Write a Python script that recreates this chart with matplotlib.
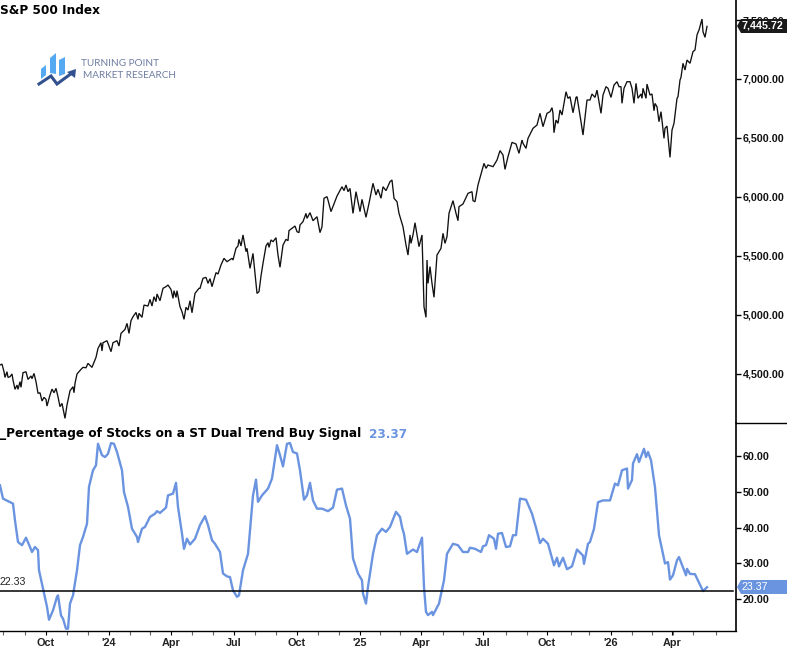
#!/usr/bin/env python3

import matplotlib
matplotlib.use("Agg")
import matplotlib.pyplot as plt
from matplotlib.patches import Polygon

# S&P 500 closes, x is the session count on the shared time axis
spx_sessions = [0, 2, 4, 5, 7, 8, 10, 12, 13, 15, 17, 18, 20, 21, 23, 26, 28, 31, 32, 34, 36, 38, 40, 42, 44, 46,
                47, 50, 52, 54, 56, 58, 60, 62, 65, 67, 70, 73, 74, 75, 77, 81, 83, 86, 88, 92, 96, 98, 101,
                102, 103, 107, 109, 111, 113, 117, 119, 121, 125, 127, 129, 131, 133, 136, 138, 139, 142, 144,
                148, 150, 152, 154, 156, 157, 160, 163, 166, 168, 171, 173, 174, 176, 177, 180, 182, 184, 186,
                188, 190, 192, 195, 199,
                200, 203, 206, 208, 210, 212, 216, 218, 221, 224, 227, 232, 233, 236, 238, 239, 241, 243, 246,
                247, 250, 253, 255, 257, 259, 261, 263, 266, 268, 269, 271, 273, 276, 278, 280, 283, 286, 288,
                289, 295, 297, 299, 300, 303, 306, 307, 310, 313, 317, 320, 322, 324, 327, 328, 331, 337, 342,
                344, 346, 348, 350, 353, 356, 360, 362, 366, 369, 373, 376, 378, 381, 383, 386, 390, 392, 394,
                397, 399,
                403, 406, 408, 410, 411, 413, 415, 419, 422, 424, 426, 427, 428, 430, 432, 434, 437, 441, 443,
                445, 447, 449, 453, 456, 458, 459, 463, 468, 472, 473, 475, 478, 484, 486, 488, 493, 497, 500,
                503, 505, 508, 512, 516, 519, 522, 523, 526, 528, 533, 537,
                540, 543, 547, 550, 552, 553, 554, 556, 558, 560, 562, 566, 568, 570, 573, 576, 577, 580, 581,
                583, 587, 590, 592, 595, 597, 601, 603, 606, 608, 611, 614, 617, 619, 621, 622, 624, 627, 630,
                632, 634, 636, 638, 641, 642, 643, 646, 647, 650, 652, 654, 655, 657, 659, 661, 664, 665, 667,
                670, 672, 674, 677, 678, 680,
                681, 683, 685, 687, 690, 693, 695, 697, 699, 702, 703, 705, 707]
spx_close = [4576, 4584, 4519, 4471, 4519, 4471, 4477, 4500, 4449, 4370, 4406, 4370, 4435, 4387, 4511, 4519, 4454,
             4483, 4460, 4505, 4435, 4336, 4341, 4271, 4302, 4285, 4228, 4322, 4372, 4341, 4378, 4307, 4223, 4251,
             4124, 4237, 4358, 4392, 4341, 4420, 4500, 4539, 4556, 4553, 4590, 4556, 4641, 4717, 4765, 4695, 4765,
             4782, 4737, 4689, 4765, 4782, 4737, 4844, 4878, 4929, 4844, 4952, 4985, 5022, 4963, 5014, 4980, 5084,
             5076, 5132, 5076, 5155, 5113, 5178, 5121, 5226, 5240, 5254, 5217, 5141, 5206, 5149, 5206, 5070, 5028,
             4963, 5065, 5042, 5121, 5019, 5183, 5226,
             5226, 5311, 5319, 5268, 5308, 5240, 5359, 5347, 5424, 5480, 5452, 5480, 5466, 5565, 5585, 5641, 5585,
             5678, 5537, 5565, 5395, 5522, 5353, 5183, 5198, 5330, 5438, 5585, 5613, 5573, 5636, 5621, 5655, 5508,
             5404, 5593, 5641, 5630, 5715, 5754, 5706, 5698, 5763, 5791, 5861, 5819, 5867, 5799, 5833, 5698, 5748,
             5989, 6003, 5974, 5876, 6008, 6087, 6054, 6102, 6045, 6073, 5861, 6045, 5876, 5980, 5828, 5946, 6116,
             6017, 6065, 5989, 6087, 6054, 6130, 6144, 5989, 5960, 5861,
             5748, 5593, 5508, 5678, 5607, 5678, 5782, 5579, 5678, 5070, 4980, 5466, 5268, 5410, 5268, 5150, 5508,
             5565, 5692, 5607, 5664, 5862, 5969, 5862, 5799, 5918, 5941, 6031, 6045, 5969, 5960, 6102, 6285, 6243,
             6271, 6257, 6313, 6393, 6356, 6234, 6342, 6463, 6449, 6370, 6483, 6455, 6412, 6497, 6582, 6610,
             6709, 6596, 6709, 6723, 6757, 6709, 6545, 6652, 6624, 6737, 6695, 6892, 6836, 6850, 6714, 6844, 6850,
             6695, 6638, 6525, 6822, 6822, 6873, 6844, 6906, 6709, 6864, 6935, 6921, 6844, 6949, 6977, 6935, 6935,
             6794, 6921, 6977, 6977, 6921, 6794, 6963, 6836, 6873, 6836, 6921, 6836, 6957, 6864, 6873, 6731, 6793,
             6765, 6638, 6723, 6497, 6582, 6601, 6336, 6567, 6624, 6836, 6850, 6991,
             7014, 7133, 7076, 7161, 7133, 7232, 7246, 7373, 7415, 7508, 7401, 7353, 7445.72]

# breadth line in percent, same session count
pct_sessions = [0, 3, 8, 13, 15, 18, 22, 26, 30, 32, 35, 38, 39, 43, 47, 49, 53, 57, 58, 61, 63, 66, 68, 70,
                73, 77, 80, 83, 87, 89, 93, 96, 98, 102, 105, 108, 111, 114, 117, 122, 124, 128, 132, 137,
                138, 142, 145, 150, 155, 157, 160, 166, 168, 173, 176, 178, 182, 184, 187, 190, 195, 200,
                205, 208, 212, 215, 220, 223, 227, 230, 233, 237, 239, 243, 248, 252, 253, 256, 258, 262,
                268, 272, 277, 280, 283, 287, 290, 293, 297, 300, 304, 307, 310, 313, 317, 322, 328, 333,
                337, 342, 346, 350, 353, 358, 362, 363, 366, 368, 373, 377, 382, 386, 390, 396, 400, 402,
                404, 407, 413, 417, 422, 424, 426, 428, 432, 433, 439, 444, 447, 453, 458, 463, 468, 470,
                475, 481, 483, 486, 489, 494, 496, 498, 502, 506, 510, 513, 516, 520, 526, 532, 536, 540,
                543, 548, 554, 557, 559, 563, 567, 572, 577, 583, 584, 588, 590, 594, 598, 603, 610, 615,
                618, 622, 627, 628, 632, 633, 637, 639, 644, 646, 648, 651, 655, 659, 665, 668, 670, 673,
                677, 679, 686, 687, 690, 695, 703, 707]
pct_values = [51.8, 48.1, 47.4, 46.7, 42.0, 36.0, 35.1, 37.2, 34.6, 33.2, 34.6, 33.7, 28.1, 23.0, 17.9, 14.3,
              16.9, 20.7, 21.1, 15.5, 14.6, 11.8, 11.8, 18.8, 21.1, 28.1, 35.1, 37.4, 41.1, 51.4, 56.0, 57.4,
              63.4, 60.2, 59.7, 60.6, 63.6, 63.4, 61.1, 56.0, 49.9, 45.8, 39.7, 37.4, 36.0, 39.7, 40.2, 43.0,
              43.9, 44.6, 44.1, 45.6, 49.0, 49.5, 52.5, 45.8, 38.3, 34.1, 36.9, 35.3, 36.9, 40.7, 43.2, 40.7,
              36.5, 35.5, 33.2, 27.2, 26.4, 26.2, 22.5, 20.7, 21.1, 28.1, 32.7, 45.8, 49.0, 53.4, 47.2, 49.0,
              50.9, 53.7, 63.0, 60.2, 57.1, 63.4, 63.6, 61.1, 60.7, 56.0, 47.8, 49.0, 52.5, 47.6, 45.3, 45.3,
              44.6, 45.6, 50.6, 50.9, 46.2, 42.5, 31.4, 27.2, 25.3, 21.6, 18.8, 23.5, 32.7, 37.9, 39.7, 38.8,
              40.2, 44.4, 43.0, 40.2, 38.2, 32.7, 33.9, 33.2, 37.2, 23.4, 16.5, 15.6, 16.5, 15.6, 18.8, 25.3,
              32.7, 35.5, 35.1, 33.2, 33.2, 34.4, 34.1, 33.2, 34.8, 35.1, 37.9, 36.9, 34.1, 38.3, 38.5, 34.6,
              34.8, 37.9, 37.9, 48.1, 47.8, 43.9, 40.0, 35.7, 36.9, 35.5, 29.5, 31.6, 29.2, 31.6, 28.4, 29.2,
              33.9, 32.2, 29.9, 35.5, 36.0, 39.7, 47.1, 47.6, 47.6, 52.3, 51.8, 56.0, 56.5, 50.9, 53.3, 57.9,
              60.5, 58.3, 62.0, 59.7, 61.1, 58.8, 51.3, 37.9, 30.0, 30.4, 25.5, 26.7, 30.9, 31.8, 26.7, 28.5,
              27.1, 27.0, 22.3, 23.37]

month_sessions = [3, 25, 46, 67, 88, 109, 130, 150, 171, 192, 213, 234, 255, 276, 297, 318, 339, 360, 380, 400,
                  421, 443, 463, 483, 506, 527, 547, 571, 589, 611, 632, 652, 673, 693, 716]
label_sessions = [46, 109, 171, 234, 297, 360, 421, 483, 547, 611, 672]
label_names = ["Oct", "'24", "Apr", "Jul", "Oct", "'25", "Apr", "Jul", "Oct", "'26", "Apr"]

spx_ticks = [4500, 5000, 5500, 6000, 6500, 7000, 7500]
pct_ticks = [20, 30, 40, 50, 60]
spx_last = 7445.72
pct_last = 23.37
pct_level = 22.33

W, H = 787, 649
BLUE = "#6b94e0"
TICK_FONT = "Liberation Sans"

fig = plt.figure(figsize=(W / 100, H / 100), dpi=100)
ax1 = fig.add_axes([0, (H - 423) / H, 736 / W, 423 / H])
ax2 = fig.add_axes([0, (H - 631) / H, 736 / W, 208 / H], sharex=ax1)

ax1.plot(spx_sessions, spx_close, color="#111111", lw=0.95, solid_joinstyle="miter")
ax2.plot(pct_sessions, pct_values, color=BLUE, lw=1.7, solid_joinstyle="round")
ax2.plot([0, 733], [pct_level, pct_level], color="black", lw=1.1)

ax1.set_xlim(0, 736)
ax1.set_ylim(4084.6, 7669.5)
ax2.set_ylim(11.16, 69.2)

for ax in (ax1, ax2):
    ax.spines["left"].set_visible(False)
    ax.spines["top"].set_visible(False)
    ax.yaxis.tick_right()
    ax.spines["right"].set_linewidth(1.2)

ax1.spines["bottom"].set_visible(False)
ax2.spines["bottom"].set_linewidth(1.0)
ax1.tick_params(axis="x", which="both", length=0, labelbottom=False)

ax1.set_yticks(spx_ticks, ["{:,.2f}".format(v) for v in spx_ticks])
ax2.set_yticks(pct_ticks, ["{:.2f}".format(v) for v in pct_ticks])
for ax in (ax1, ax2):
    ax.tick_params(axis="y", length=3.5, width=1, pad=1.5, labelsize=7.7)
    for lab in ax.get_yticklabels():
        lab.set_fontfamily(TICK_FONT)
        lab.set_fontweight("bold")
        lab.set_color("#111111")

ax2.set_xticks(month_sessions, minor=True)
ax2.set_xticks(label_sessions, label_names)
ax2.tick_params(axis="x", which="major", length=3, width=0.8, pad=2, labelsize=7.8)
ax2.tick_params(axis="x", which="minor", length=3, width=0.8, color="#666666")
for lab in ax2.get_xticklabels():
    lab.set_fontfamily(TICK_FONT)
    lab.set_fontweight("bold")
    lab.set_color("#222222")

# overlay in pixel units for the titles, price tags and logo
top = fig.add_axes([0, 0, 1, 1], zorder=5)
top.set_xlim(0, W)
top.set_ylim(H, 0)
top.axis("off")

top.text(0, 10, "S&P 500 Index", fontsize=8.7, fontweight="bold", color="black",
         va="center", family="DejaVu Sans")
top.text(0, 434, "_Percentage of Stocks on a ST Dual Trend Buy Signal", fontsize=8.7,
         fontweight="bold", color="black", va="center", family="DejaVu Sans")
top.text(369, 434, "{:.2f}".format(pct_last), fontsize=8.7, fontweight="bold", color=BLUE,
         va="center", family="DejaVu Sans")
top.text(0, 582, "{:.2f}".format(pct_level), fontsize=7.6, color="#222222", va="center", family=TICK_FONT)

# divider between the panels only runs through the scale area
top.plot([736, W], [423, 423], color="black", lw=1.0)


def price_tag(y, text, face, weight):
    top.add_patch(Polygon([(737, y), (741, y - 7), (W, y - 7), (W, y + 7), (741, y + 7)],
                          closed=True, fc=face, ec="none"))
    top.text(741, y, text, color="white", fontsize=7.7, fontweight=weight, va="center", family=TICK_FONT)


price_tag(26, "{:,.2f}".format(spx_last), "#1a1a1a", "bold")
price_tag(587, "{:.2f}".format(pct_last), BLUE, "normal")

# logo
bar_color = "#55a9f2"
navy = "#33508f"
top.add_patch(Polygon([(41, 69), (46, 65), (46, 75), (41, 79)], closed=True, fc=bar_color, ec="none"))
top.add_patch(Polygon([(50, 58), (56, 53), (56, 74), (50, 73)], closed=True, fc=bar_color, ec="none"))
top.add_patch(Polygon([(59, 60), (65, 57), (65, 74), (59, 76)], closed=True, fc=bar_color, ec="none"))
top.plot([39, 51, 57, 72], [84, 76, 84, 73], color=navy, lw=2.2, solid_joinstyle="miter")
top.add_patch(Polygon([(76, 69), (75, 78), (67, 72)], closed=True, fc=navy, ec="none"))
top.text(81, 63, "TURNING POINT", fontsize=7.2, color="#6f7fa3", va="center", family="Lato")
top.text(83, 75, "MARKET RESEARCH", fontsize=7.2, color="#6f7fa3", va="center", family="Lato")

fig.savefig("out.png", dpi=100)
